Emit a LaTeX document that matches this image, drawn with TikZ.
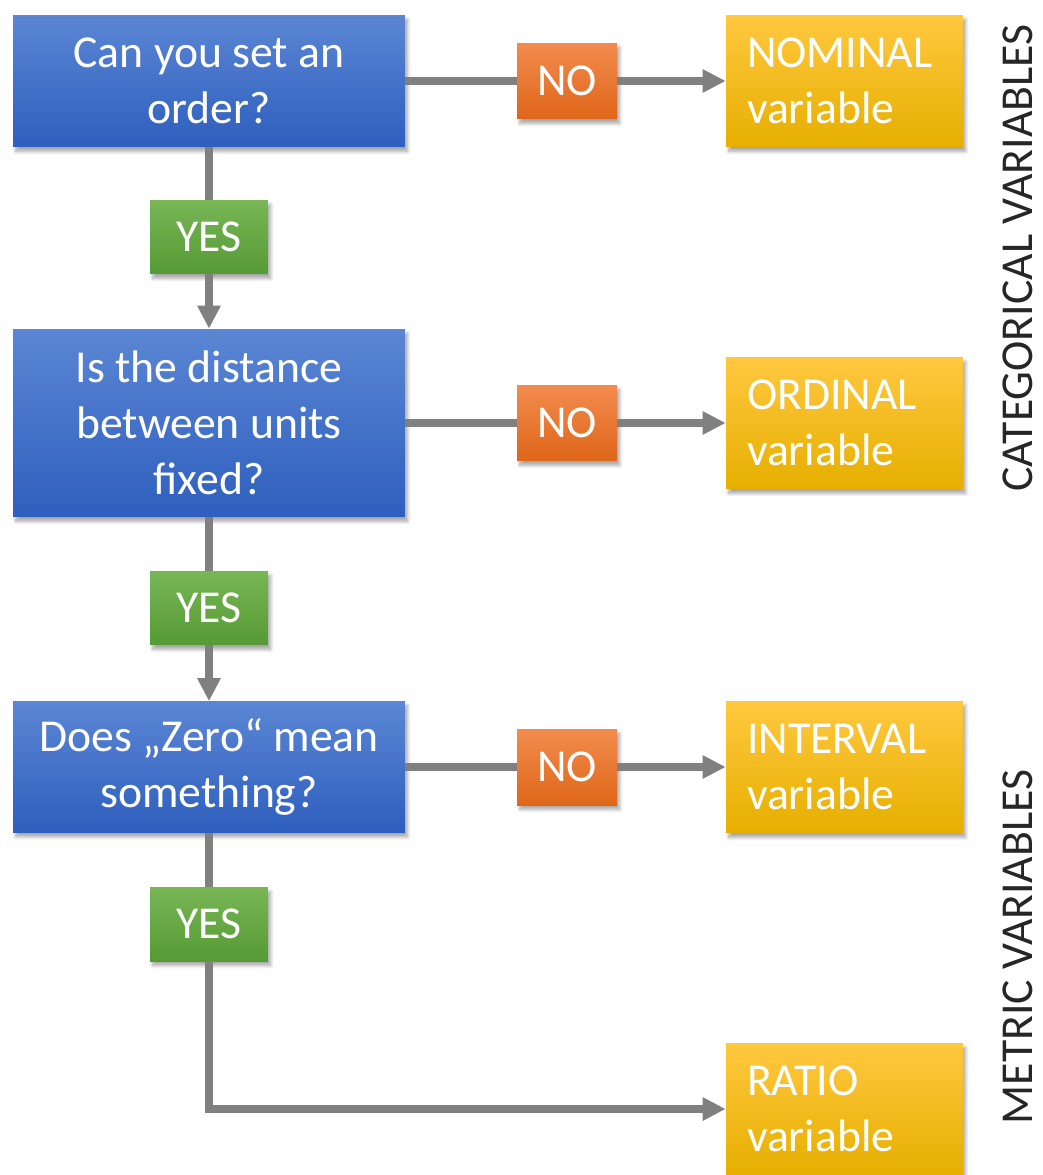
\documentclass[tikz,border=0pt]{standalone}
\usepackage{fontspec}
\setmainfont{Carlito}
\usepackage{xcolor}
\usepackage{tikz}
\usetikzlibrary{arrows.meta}
\usetikzlibrary{positioning}
\usetikzlibrary{shadows.blur}
\definecolor{bluetop}{HTML}{5B86D4}
\definecolor{bluebot}{HTML}{2E5FBE}
\definecolor{orangetop}{HTML}{F28C4E}
\definecolor{orangebot}{HTML}{DF6619}
\definecolor{greentop}{HTML}{78B656}
\definecolor{greenbot}{HTML}{559A34}
\definecolor{yellowtop}{HTML}{FFC83F}
\definecolor{yellowbot}{HTML}{E6AF00}
\definecolor{linkgray}{HTML}{808080}
\definecolor{sidegray}{HTML}{262626}

\begin{document}
\begin{tikzpicture}[
  x=0.02cm, y=-0.02cm,
  every node/.style={font=\fontsize{26}{32}\selectfont},
  box/.style={rectangle,text=white,inner sep=0pt,
    blur shadow={shadow xshift=1.5pt,shadow yshift=-2.5pt,shadow opacity=35,shadow blur steps=6}},
  question/.style={box,top color=bluetop,bottom color=bluebot,
    minimum width=7.84cm,align=center},
  nobox/.style={box,top color=orangetop,bottom color=orangebot,
    minimum width=2cm,minimum height=1.52cm},
  yesbox/.style={box,top color=greentop,bottom color=greenbot,
    minimum width=2.36cm,minimum height=1.48cm},
  result/.style={box,top color=yellowtop,bottom color=yellowbot,
    minimum width=4.74cm,minimum height=2.64cm,text width=3.9cm,align=left},
  sidelabel/.style={text=sidegray,rotate=90},
  link/.style={draw=linkgray,line width=4pt},
  arrowlink/.style={link,-{Triangle[length=0.46cm,width=0.44cm]}}]
\useasboundingbox (0,0) rectangle (1042,1175);

\node[question,minimum height=2.64cm] (q1) at (209,81) {Can you set an\\order?};
\node[question,minimum height=3.76cm] (q2) at (209,423) {Is the distance\\between units\\fixed?};
\node[question,minimum height=2.62cm] (q3) at (209,767) {Does „Zero“ mean\\something?};

\node[nobox] (no1) at (567,81) {NO};
\node[nobox] (no2) at (567,423) {NO};
\node[nobox] (no3) at (567,767) {NO};

\node[yesbox] (yes1) at (209,237) {YES};
\node[yesbox] (yes2) at (209,608) {YES};
\node[yesbox] (yes3) at (209,924) {YES};

\node[result] (nominal) at (844.5,81) {NOMINAL\\variable};
\node[result] (ordinal) at (844.5,423) {ORDINAL\\variable};
\node[result] (interval) at (844.5,767) {INTERVAL\\variable};
\node[result] (ratio) at (844.5,1109) {RATIO\\variable};

\node[sidelabel] (categorical) at (1018,258) {CATEGORICAL VARIABLES};
\node[sidelabel] (metric) at (1018,947) {METRIC VARIABLES};

\draw[link] (q1) -- (no1);
\draw[arrowlink] (no1) -- (nominal);
\draw[link] (q2) -- (no2);
\draw[arrowlink] (no2) -- (ordinal);
\draw[link] (q3) -- (no3);
\draw[arrowlink] (no3) -- (interval);
\draw[link] (q1) -- (yes1);
\draw[arrowlink] (yes1) -- (q2);
\draw[link] (q2) -- (yes2);
\draw[arrowlink] (yes2) -- (q3);
\draw[link] (q3) -- (yes3);
\draw[arrowlink] (yes3) |- (ratio);
\end{tikzpicture}
\end{document}
